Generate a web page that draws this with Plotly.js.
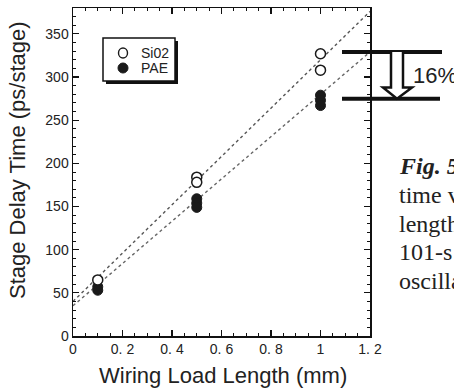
<!DOCTYPE html>
<html>
<head>
<meta charset="utf-8">
<script src="https://cdn.plot.ly/plotly-3.0.1.min.js"></script>
<style>html,body{margin:0;padding:0;background:#fff;}#chart{width:454px;height:390px;}</style>
</head>
<body>
<div id="chart"></div>
<script>
// ---- data ----
var sio2X = [0.1, 0.5, 0.5, 1.0, 1.0];
var sio2Y = [65, 184, 178, 327, 308];
var paeX = [0.1, 0.1, 0.5, 0.5, 0.5, 1.0, 1.0, 1.0];
var paeY = [57, 53, 159, 154, 149, 279, 273, 267];
var fitX = [0, 1.2];
var sio2Fit = [40, 376];
var paeFit = [35, 329];
var xTickVals = [0, 0.2, 0.4, 0.6, 0.8, 1, 1.2];
var xTickText = ['0', '0. 2', '0. 4', '0. 6', '0. 8', '1', '1. 2'];
var yTickVals = [0, 50, 100, 150, 200, 250, 300, 350];
var seriesNames = ['Si02', 'PAE'];
var captionTitle = 'Fig. 5';
var captionLines = ['time v', 'length', '101-s', 'oscilla'];
var reductionLabel = '16%';

var sans = 'Liberation Sans, Arial, sans-serif';
var serif = 'Liberation Serif, Times New Roman, serif';
var ink = '#1a1a1a';

var traces = [
  {x: fitX, y: sio2Fit, mode: 'lines', line: {color: '#555', width: 1.4, dash: 'dot'}, showlegend: false, hoverinfo: 'skip'},
  {x: fitX, y: paeFit, mode: 'lines', line: {color: '#666', width: 1.4, dash: 'dot'}, showlegend: false, hoverinfo: 'skip'},
  {x: paeX, y: paeY, mode: 'markers', name: seriesNames[1], showlegend: false,
   marker: {symbol: 'circle', size: 10, color: ink, line: {color: ink, width: 1}}},
  {x: sio2X, y: sio2Y, mode: 'markers', name: seriesNames[0], showlegend: false,
   marker: {symbol: 'circle', size: 10, color: '#ffffff', line: {color: ink, width: 1.5}}}
];

var axisCommon = {
  showgrid: false, zeroline: false, showline: true, linecolor: '#111', linewidth: 1.5,
  ticks: 'inside', ticklen: 6, tickwidth: 1.2, tickcolor: '#111', mirror: 'ticks',
  tickfont: {family: sans, size: 14, color: '#222'}
};

// plot-area mapping helpers for the non-data decorations (px -> paper)
function px(x) { return (x - 73) / 297; }
function py(y) { return (336 - y) / 328; }

var annotations = [
  {xref: 'paper', yref: 'paper', x: px(17), y: py(160), xanchor: 'center', yanchor: 'middle',
   textangle: -90, text: 'Stage Delay Time (ps/stage)', showarrow: false,
   font: {family: sans, size: 22, color: '#222'}},
  {xref: 'paper', yref: 'paper', x: px(223), y: py(375), xanchor: 'center', yanchor: 'middle',
   text: 'Wiring Load Length (mm)', showarrow: false,
   font: {family: sans, size: 22, color: '#222'}},
  {xref: 'paper', yref: 'y', x: px(411), y: 302, xanchor: 'left', yanchor: 'middle',
   text: reductionLabel, showarrow: false, font: {family: sans, size: 22, color: '#222'}},
  {xref: 'paper', yref: 'paper', x: px(397), y: py(166), xanchor: 'left', yanchor: 'middle',
   text: '<b><i>' + captionTitle + '</i></b>', showarrow: false, font: {family: serif, size: 24, color: '#222'}},
  // legend texts
  {xref: 'paper', yref: 'paper', x: px(139), y: py(53), xanchor: 'left', yanchor: 'middle',
   text: seriesNames[0], showarrow: false, font: {family: sans, size: 14, color: '#222'}},
  {xref: 'paper', yref: 'paper', x: px(139), y: py(68), xanchor: 'left', yanchor: 'middle',
   text: seriesNames[1], showarrow: false, font: {family: sans, size: 14, color: '#222'}}
];
captionLines.forEach(function (t, i) {
  annotations.push({xref: 'paper', yref: 'paper', x: px(397), y: py(195 + i * 28.5),
    xanchor: 'left', yanchor: 'middle', text: t, showarrow: false,
    font: {family: serif, size: 24, color: '#222'}});
});

var shapes = [
  // legend shadow + box
  {type: 'rect', xref: 'paper', yref: 'paper', x0: px(106), x1: px(178), y0: py(84), y1: py(41),
   fillcolor: '#111', line: {width: 0}, layer: 'above'},
  {type: 'rect', xref: 'paper', yref: 'paper', x0: px(103), x1: px(175), y0: py(81), y1: py(38),
   fillcolor: '#fff', line: {color: '#111', width: 1.5}, layer: 'above'},
  // legend symbols
  {type: 'circle', xref: 'paper', yref: 'paper', xsizemode: 'pixel', ysizemode: 'pixel',
   xanchor: px(123), yanchor: py(53), x0: -4.5, x1: 4.5, y0: -5, y1: 5,
   fillcolor: '#fff', line: {color: ink, width: 1.4}, layer: 'above'},
  {type: 'circle', xref: 'paper', yref: 'paper', xsizemode: 'pixel', ysizemode: 'pixel',
   xanchor: px(123), yanchor: py(68), x0: -5, x1: 5, y0: -5, y1: 5,
   fillcolor: ink, line: {color: ink, width: 1}, layer: 'above'},
  // 16% bracket lines
  {type: 'line', xref: 'paper', yref: 'y', x0: px(342), x1: px(442), y0: 329, y1: 329, line: {color: '#111', width: 4}},
  {type: 'line', xref: 'paper', yref: 'y', x0: px(342), x1: px(440), y0: 275, y1: 275, line: {color: '#111', width: 4}},
  // hollow arrow
  {type: 'path', xref: 'paper', yref: 'y',
   path: 'M' + px(391) + ',329 L' + px(391) + ',288 L' + px(383) + ',288 L' + px(397) + ',275 L' +
         px(412) + ',288 L' + px(403) + ',288 L' + px(403) + ',329',
   fillcolor: '#ffffff', line: {color: '#111', width: 2.5}}
];

var layout = {
  width: 454, height: 390,
  margin: {l: 73, r: 84, t: 8, b: 54},
  paper_bgcolor: '#fff', plot_bgcolor: '#fff',
  font: {family: sans, color: '#222'},
  xaxis: Object.assign({}, axisCommon, {
    range: [0, 1.2], tickvals: xTickVals, ticktext: xTickText,
    minor: {dtick: 0.05, ticks: 'inside', ticklen: 3, tickcolor: '#111', tickwidth: 1}
  }),
  yaxis: Object.assign({}, axisCommon, {
    range: [0, 380], tickvals: yTickVals,
    minor: {dtick: 10, ticks: 'inside', ticklen: 3, tickcolor: '#111', tickwidth: 1}
  }),
  annotations: annotations,
  shapes: shapes,
  showlegend: false
};

Plotly.newPlot('chart', traces, layout, {displayModeBar: false, staticPlot: true});
</script>
</body>
</html>
